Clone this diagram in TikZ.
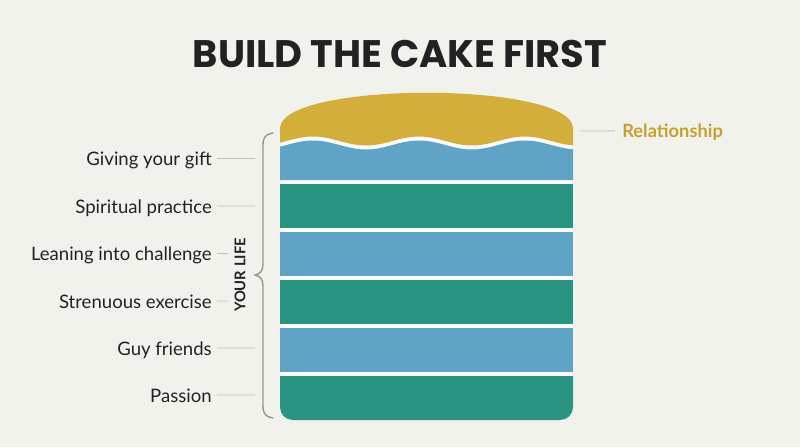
\documentclass[tikz,border=0pt]{standalone}
\usepackage{fontspec}
\setmainfont{Lato}
\newfontfamily\titlefont{Poppins}
\usetikzlibrary{positioning}
\definecolor{cakebg}{RGB}{242,242,237}
\definecolor{frosting}{RGB}{212,174,58}
\definecolor{layerblue}{RGB}{95,163,198}
\definecolor{layergreen}{RGB}{42,148,130}
\definecolor{relgold}{RGB}{200,160,48}
\definecolor{inkdark}{RGB}{34,34,34}
\definecolor{leadgray}{RGB}{192,192,188}
\definecolor{bracegray}{RGB}{150,150,146}
\tikzset{
  lifelabel/.style = {inner sep=0pt, text=inkdark, font=\fontsize{13.2}{15}\selectfont},
  leader/.style    = {draw=leadgray, line width=0.6pt},
  lifebrace/.style = {draw=bracegray, line width=1pt, line cap=round}
}

\begin{document}
\begin{tikzpicture}[x=0.025cm, y=-0.025cm]
\fill[cakebg] (0,0) rectangle (800,447);
\useasboundingbox (0,0) rectangle (800,447);

% title
\node[anchor=base, inner sep=0pt, text=inkdark, font=\titlefont\bfseries\fontsize{27.3}{32}\selectfont] (title) at (400,67) {BUILD THE CAKE FIRST};

% white showing between the layers
\fill[white!70!cakebg] (281,135) rectangle (572,400);

% frosting on top
\fill[frosting] (280,141) -- (280,128) .. controls (282,81) and (571,81) .. (573,128)
  -- plot[domain=573:280, samples=90] (\x,{141-4.5*cos(3.4*(\x-313))}) -- cycle;

% first layer with wavy top
\fill[layerblue] plot[domain=280:573, samples=90] (\x,{145-4.5*cos(3.4*(\x-313))})
  -- (573,180) -- (280,180) -- cycle;

% straight layers
\foreach \top/\col in {184/layergreen, 232/layerblue, 280/layergreen, 328/layerblue}
  \fill[\col] (280,\top) rectangle (573,\top+44);
\fill[layergreen] (280,376) [rounded corners=0.32cm] -- (280,420) -- (573,420) [sharp corners] -- (573,376) -- cycle;

% labels on the left
\foreach \name/\txt/\yy/\xend in {gift/Giving your gift/165.5/255, practice/Spiritual practice/213/255,
    challenge/Leaning into challenge/260.5/228, exercise/Strenuous exercise/308/228,
    friends/Guy friends/355/255, passion/Passion/402/255}{
  \node[lifelabel, anchor=base east] (\name) at (212,\yy) {\txt};
  \coordinate (\name end) at (\xend,\yy-7);
  \draw[leader] ([xshift=0.13cm, yshift=0.175cm]\name.base east) -- (\name end);
}

% brace
\draw[lifebrace] (273,133) .. controls (266,134) and (263,137) .. (263,145) -- (263,264)
  .. controls (263,271) and (260,274) .. (255,275) .. controls (260,276) and (263,279) .. (263,286)
  -- (263,406) .. controls (263,414) and (266,417) .. (273,418);
\node[rotate=90, inner sep=0pt, text=inkdark, font=\bfseries\fontsize{10.5}{12}\selectfont] (yourlife) at (240,275) {YOUR LIFE};

% relationship label
\node[anchor=base west, inner sep=0pt, text=relgold, font=\bfseries\fontsize{13}{15}\selectfont] (rel) at (622,137.5) {Relationship};
\coordinate (rel start) at (580,131);
\draw[leader] (rel start) -- ([xshift=-0.18cm, yshift=0.165cm]rel.base west);
\end{tikzpicture}
\end{document}
